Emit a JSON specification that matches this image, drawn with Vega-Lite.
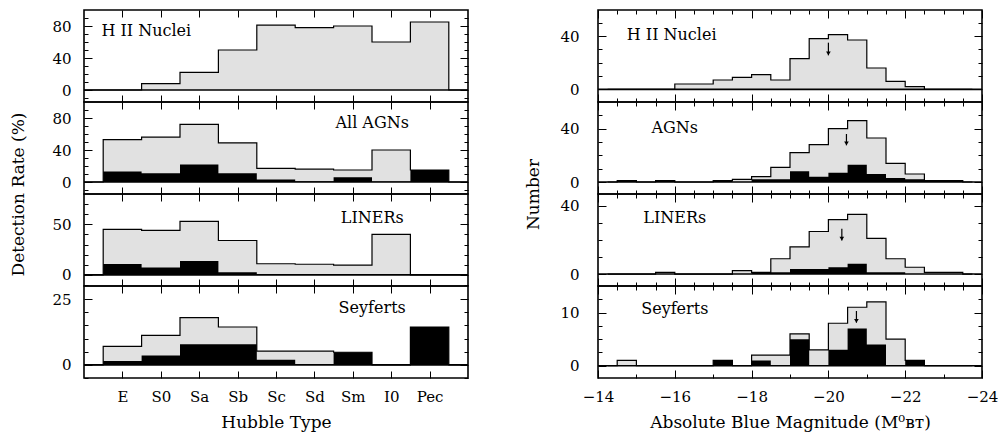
{
  "$schema": "https://vega.github.io/schema/vega-lite/v6.json",
  "padding": {"left": 8, "top": 8, "right": 2, "bottom": 5},
  "background": "white",
  "config": {
    "font": "DejaVu Serif",
    "view": {"stroke": "black", "strokeWidth": 1.6},
    "axis": {"domain": false, "grid": false, "tickColor": "black", "tickWidth": 1, "labelColor": "black", "labelFontSize": 15, "labelFont": "DejaVu Serif", "labelAngle": 0, "titleFont": "DejaVu Serif", "titleFontSize": 17, "titleFontWeight": "normal", "titleColor": "black", "labelOverlap": false, "labelFlush": false}
  },
  "datasets": {
    "hubble": [
      {"panel": "HII", "type": "_start", "total": 0, "black": 0},
      {"panel": "HII", "type": "E", "total": 0, "black": 0},
      {"panel": "HII", "type": "S0", "total": 8, "black": 0},
      {"panel": "HII", "type": "Sa", "total": 22, "black": 0},
      {"panel": "HII", "type": "Sb", "total": 50, "black": 0},
      {"panel": "HII", "type": "Sc", "total": 81, "black": 0},
      {"panel": "HII", "type": "Sd", "total": 78, "black": 0},
      {"panel": "HII", "type": "Sm", "total": 80, "black": 0},
      {"panel": "HII", "type": "I0", "total": 60, "black": 0},
      {"panel": "HII", "type": "Pec", "total": 85, "black": 0},
      {"panel": "HII", "type": "_end", "total": 0, "black": 0},
      {"panel": "AGN", "type": "_start", "total": 0, "black": 0},
      {"panel": "AGN", "type": "E", "total": 53, "black": 13},
      {"panel": "AGN", "type": "S0", "total": 56, "black": 11},
      {"panel": "AGN", "type": "Sa", "total": 72, "black": 22},
      {"panel": "AGN", "type": "Sb", "total": 49, "black": 11},
      {"panel": "AGN", "type": "Sc", "total": 17, "black": 3},
      {"panel": "AGN", "type": "Sd", "total": 16, "black": 1},
      {"panel": "AGN", "type": "Sm", "total": 15, "black": 6},
      {"panel": "AGN", "type": "I0", "total": 40, "black": 0.5},
      {"panel": "AGN", "type": "Pec", "total": 15, "black": 15},
      {"panel": "AGN", "type": "_end", "total": 0, "black": 0},
      {"panel": "LINER", "type": "_start", "total": 0, "black": 0},
      {"panel": "LINER", "type": "E", "total": 45, "black": 10.7},
      {"panel": "LINER", "type": "S0", "total": 44, "black": 7.4},
      {"panel": "LINER", "type": "Sa", "total": 53, "black": 13.7},
      {"panel": "LINER", "type": "Sb", "total": 34, "black": 2.7},
      {"panel": "LINER", "type": "Sc", "total": 11, "black": 0.5},
      {"panel": "LINER", "type": "Sd", "total": 10.5, "black": 0.3},
      {"panel": "LINER", "type": "Sm", "total": 9.7, "black": 0.3},
      {"panel": "LINER", "type": "I0", "total": 40, "black": 0},
      {"panel": "LINER", "type": "Pec", "total": 0, "black": 0},
      {"panel": "LINER", "type": "_end", "total": 0, "black": 0},
      {"panel": "SEY", "type": "_start", "total": 0, "black": 0},
      {"panel": "SEY", "type": "E", "total": 7, "black": 1.5},
      {"panel": "SEY", "type": "S0", "total": 11.2, "black": 3.6},
      {"panel": "SEY", "type": "Sa", "total": 18, "black": 7.8},
      {"panel": "SEY", "type": "Sb", "total": 14.4, "black": 7.8},
      {"panel": "SEY", "type": "Sc", "total": 5.2, "black": 1.9},
      {"panel": "SEY", "type": "Sd", "total": 5.2, "black": 0},
      {"panel": "SEY", "type": "Sm", "total": 4.8, "black": 4.8},
      {"panel": "SEY", "type": "I0", "total": 0, "black": 0},
      {"panel": "SEY", "type": "Pec", "total": 14.4, "black": 14.4},
      {"panel": "SEY", "type": "_end", "total": 0, "black": 0}
    ],
    "mag": [
      {"panel": "HII", "mag": -14.25, "total": 0, "black": 0},
      {"panel": "HII", "mag": -14.75, "total": 0, "black": 0},
      {"panel": "HII", "mag": -15.25, "total": 0, "black": 0},
      {"panel": "HII", "mag": -15.75, "total": 0, "black": 0},
      {"panel": "HII", "mag": -16.25, "total": 4, "black": 0},
      {"panel": "HII", "mag": -16.75, "total": 4, "black": 0},
      {"panel": "HII", "mag": -17.25, "total": 7, "black": 0},
      {"panel": "HII", "mag": -17.75, "total": 9, "black": 0},
      {"panel": "HII", "mag": -18.25, "total": 11, "black": 0},
      {"panel": "HII", "mag": -18.75, "total": 7, "black": 0},
      {"panel": "HII", "mag": -19.25, "total": 23, "black": 0},
      {"panel": "HII", "mag": -19.75, "total": 38, "black": 0},
      {"panel": "HII", "mag": -20.25, "total": 41, "black": 0},
      {"panel": "HII", "mag": -20.75, "total": 37, "black": 0},
      {"panel": "HII", "mag": -21.25, "total": 16, "black": 0},
      {"panel": "HII", "mag": -21.75, "total": 6, "black": 0},
      {"panel": "HII", "mag": -22.25, "total": 2, "black": 0},
      {"panel": "HII", "mag": -22.75, "total": 0, "black": 0},
      {"panel": "HII", "mag": -23.25, "total": 0, "black": 0},
      {"panel": "HII", "mag": -23.75, "total": 0, "black": 0},
      {"panel": "AGN", "mag": -14.25, "total": 0, "black": 0},
      {"panel": "AGN", "mag": -14.75, "total": 1, "black": 1},
      {"panel": "AGN", "mag": -15.25, "total": 0, "black": 0},
      {"panel": "AGN", "mag": -15.75, "total": 1, "black": 1},
      {"panel": "AGN", "mag": -16.25, "total": 0, "black": 0},
      {"panel": "AGN", "mag": -16.75, "total": 0, "black": 0},
      {"panel": "AGN", "mag": -17.25, "total": 1, "black": 1},
      {"panel": "AGN", "mag": -17.75, "total": 2, "black": 0},
      {"panel": "AGN", "mag": -18.25, "total": 4, "black": 2},
      {"panel": "AGN", "mag": -18.75, "total": 11, "black": 2},
      {"panel": "AGN", "mag": -19.25, "total": 22, "black": 8},
      {"panel": "AGN", "mag": -19.75, "total": 28, "black": 4},
      {"panel": "AGN", "mag": -20.25, "total": 40, "black": 7},
      {"panel": "AGN", "mag": -20.75, "total": 46, "black": 13},
      {"panel": "AGN", "mag": -21.25, "total": 33, "black": 6},
      {"panel": "AGN", "mag": -21.75, "total": 14, "black": 3},
      {"panel": "AGN", "mag": -22.25, "total": 6, "black": 2},
      {"panel": "AGN", "mag": -22.75, "total": 1, "black": 1},
      {"panel": "AGN", "mag": -23.25, "total": 1, "black": 1},
      {"panel": "AGN", "mag": -23.75, "total": 0, "black": 0},
      {"panel": "LINER", "mag": -14.25, "total": 0, "black": 0},
      {"panel": "LINER", "mag": -14.75, "total": 0, "black": 0},
      {"panel": "LINER", "mag": -15.25, "total": 0, "black": 0},
      {"panel": "LINER", "mag": -15.75, "total": 1, "black": 0},
      {"panel": "LINER", "mag": -16.25, "total": 0, "black": 0},
      {"panel": "LINER", "mag": -16.75, "total": 0, "black": 0},
      {"panel": "LINER", "mag": -17.25, "total": 0, "black": 0},
      {"panel": "LINER", "mag": -17.75, "total": 2, "black": 0},
      {"panel": "LINER", "mag": -18.25, "total": 1, "black": 1},
      {"panel": "LINER", "mag": -18.75, "total": 9, "black": 1},
      {"panel": "LINER", "mag": -19.25, "total": 16, "black": 3},
      {"panel": "LINER", "mag": -19.75, "total": 25, "black": 3},
      {"panel": "LINER", "mag": -20.25, "total": 32, "black": 4},
      {"panel": "LINER", "mag": -20.75, "total": 35, "black": 6},
      {"panel": "LINER", "mag": -21.25, "total": 21, "black": 1},
      {"panel": "LINER", "mag": -21.75, "total": 9, "black": 1},
      {"panel": "LINER", "mag": -22.25, "total": 4, "black": 0},
      {"panel": "LINER", "mag": -22.75, "total": 1, "black": 0},
      {"panel": "LINER", "mag": -23.25, "total": 1, "black": 0},
      {"panel": "LINER", "mag": -23.75, "total": 0, "black": 0},
      {"panel": "SEY", "mag": -14.25, "total": 0, "black": 0},
      {"panel": "SEY", "mag": -14.75, "total": 1, "black": 0},
      {"panel": "SEY", "mag": -15.25, "total": 0, "black": 0},
      {"panel": "SEY", "mag": -15.75, "total": 0, "black": 0},
      {"panel": "SEY", "mag": -16.25, "total": 0, "black": 0},
      {"panel": "SEY", "mag": -16.75, "total": 0, "black": 0},
      {"panel": "SEY", "mag": -17.25, "total": 1, "black": 1},
      {"panel": "SEY", "mag": -17.75, "total": 0, "black": 0},
      {"panel": "SEY", "mag": -18.25, "total": 2, "black": 1},
      {"panel": "SEY", "mag": -18.75, "total": 2, "black": 0},
      {"panel": "SEY", "mag": -19.25, "total": 6, "black": 5},
      {"panel": "SEY", "mag": -19.75, "total": 3, "black": 0},
      {"panel": "SEY", "mag": -20.25, "total": 8, "black": 3},
      {"panel": "SEY", "mag": -20.75, "total": 11, "black": 7},
      {"panel": "SEY", "mag": -21.25, "total": 12, "black": 4},
      {"panel": "SEY", "mag": -21.75, "total": 5, "black": 0},
      {"panel": "SEY", "mag": -22.25, "total": 1, "black": 1},
      {"panel": "SEY", "mag": -22.75, "total": 0, "black": 0},
      {"panel": "SEY", "mag": -23.25, "total": 0, "black": 0},
      {"panel": "SEY", "mag": -23.75, "total": 0, "black": 0}
    ],
    "arrows": [
      {"panel": "HII", "mag": -20.0, "top": 35, "tip": 25.5},
      {"panel": "AGN", "mag": -20.47, "top": 36, "tip": 27.5},
      {"panel": "LINER", "mag": -20.35, "top": 26.6, "tip": 19.7},
      {"panel": "SEY", "mag": -20.73, "top": 10.3, "tip": 8.1}
    ]
  },
  "spacing": 51,
  "hconcat": [
    {
      "spacing": 0,
      "bounds": "flush",
      "vconcat": [
        {
          "width": 384, "height": 92,
          "resolve": {"axis": {"x": "independent", "y": "independent"}},
          "layer": [
            {"data": {"name": "hubble"}, "transform": [{"filter": "datum.panel === 'HII'"}],
             "mark": {"type": "area", "interpolate": "step", "fill": "#e1e1e1"},
             "encoding": {
               "x": {"field": "type", "type": "ordinal", "scale": {"type": "point", "domain": ["_start","E","S0","Sa","Sb","Sc","Sd","Sm","I0","Pec","_end"], "padding": 0}, "axis": {"orient": "bottom", "values": ["E","S0","Sa","Sb","Sc","Sd","Sm","I0","Pec"], "tickSize": -7, "labels": false, "title": null}},
               "y": {"field": "total", "type": "quantitative", "scale": {"domain": [-15, 100], "nice": false, "zero": false}, "axis": {"orient": "left", "values": [-10,0,10,20,30,40,50,60,70,80,90], "tickSize": {"condition": {"test": "datum.value % 40 === 0", "value": -8}, "value": -4}, "labelExpr": "datum.value % 40 === 0 ? datum.label : ''", "labelPadding": 21, "title": null}},
               "y2": {"datum": 0},
               "order": {"value": null}
             }},
            {"data": {"name": "hubble"}, "transform": [{"filter": "datum.panel === 'HII'"}],
             "mark": {"type": "area", "interpolate": "step", "fill": "black"},
             "encoding": {
               "x": {"field": "type", "type": "ordinal", "axis": {"orient": "top", "values": ["E","S0","Sa","Sb","Sc","Sd","Sm","I0","Pec"], "tickSize": -7, "labels": false, "title": null}},
               "y": {"field": "black", "type": "quantitative", "axis": {"orient": "right", "values": [-10,0,10,20,30,40,50,60,70,80,90], "tickSize": {"condition": {"test": "datum.value % 40 === 0", "value": -8}, "value": -4}, "labels": false, "title": null}},
               "y2": {"datum": 0},
               "order": {"value": null}
             }},
            {"data": {"name": "hubble"}, "transform": [{"filter": "datum.panel === 'HII'"}],
             "mark": {"type": "line", "interpolate": "step", "color": "black", "strokeWidth": 1.2},
             "encoding": {
               "x": {"field": "type", "type": "ordinal", "axis": null},
               "y": {"field": "total", "type": "quantitative", "axis": null},
               "order": {"value": null}
             }},
            {"data": {"values": [{}]}, "mark": {"type": "rule", "color": "black", "strokeWidth": 1.6}, "encoding": {"y": {"datum": 0, "type": "quantitative", "axis": null}}},
            {"data": {"values": [{"label": "H II Nuclei"}]},
             "mark": {"type": "text", "align": "left", "baseline": "middle", "fontSize": 16, "dx": -21, "color": "black"},
             "encoding": {"x": {"datum": "E", "type": "ordinal", "axis": null}, "y": {"datum": 74, "type": "quantitative", "axis": null}, "text": {"field": "label"}}}
          ]
        },
        {
          "width": 384, "height": 92,
          "resolve": {"axis": {"x": "independent", "y": "independent"}},
          "layer": [
            {"data": {"name": "hubble"}, "transform": [{"filter": "datum.panel === 'AGN'"}],
             "mark": {"type": "area", "interpolate": "step", "fill": "#e1e1e1"},
             "encoding": {
               "x": {"field": "type", "type": "ordinal", "scale": {"type": "point", "domain": ["_start","E","S0","Sa","Sb","Sc","Sd","Sm","I0","Pec","_end"], "padding": 0}, "axis": {"orient": "bottom", "values": ["E","S0","Sa","Sb","Sc","Sd","Sm","I0","Pec"], "tickSize": -7, "labels": false, "title": null}},
               "y": {"field": "total", "type": "quantitative", "scale": {"domain": [-15, 100], "nice": false, "zero": false}, "axis": {"orient": "left", "values": [-10,0,10,20,30,40,50,60,70,80,90], "tickSize": {"condition": {"test": "datum.value % 40 === 0", "value": -8}, "value": -4}, "labelExpr": "datum.value % 40 === 0 ? datum.label : ''", "labelPadding": 21, "title": "Detection Rate (%)", "titleX": -66, "titleY": 92, "titleAngle": -90, "titleAlign": "center", "titleBaseline": "middle"}},
               "y2": {"datum": 0},
               "order": {"value": null}
             }},
            {"data": {"name": "hubble"}, "transform": [{"filter": "datum.panel === 'AGN'"}],
             "mark": {"type": "area", "interpolate": "step", "fill": "black"},
             "encoding": {
               "x": {"field": "type", "type": "ordinal", "axis": {"orient": "top", "values": ["E","S0","Sa","Sb","Sc","Sd","Sm","I0","Pec"], "tickSize": -7, "labels": false, "title": null}},
               "y": {"field": "black", "type": "quantitative", "axis": {"orient": "right", "values": [-10,0,10,20,30,40,50,60,70,80,90], "tickSize": {"condition": {"test": "datum.value % 40 === 0", "value": -8}, "value": -4}, "labels": false, "title": null}},
               "y2": {"datum": 0},
               "order": {"value": null}
             }},
            {"data": {"name": "hubble"}, "transform": [{"filter": "datum.panel === 'AGN'"}],
             "mark": {"type": "line", "interpolate": "step", "color": "black", "strokeWidth": 1.2},
             "encoding": {
               "x": {"field": "type", "type": "ordinal", "axis": null},
               "y": {"field": "total", "type": "quantitative", "axis": null},
               "order": {"value": null}
             }},
            {"data": {"values": [{}]}, "mark": {"type": "rule", "color": "black", "strokeWidth": 1.6}, "encoding": {"y": {"datum": 0, "type": "quantitative", "axis": null}}},
            {"data": {"values": [{"label": "All AGNs"}]},
             "mark": {"type": "text", "align": "center", "baseline": "middle", "fontSize": 16, "dx": -19, "color": "black"},
             "encoding": {"x": {"datum": "I0", "type": "ordinal", "axis": null}, "y": {"datum": 74, "type": "quantitative", "axis": null}, "text": {"field": "label"}}}
          ]
        },
        {
          "width": 384, "height": 92,
          "resolve": {"axis": {"x": "independent", "y": "independent"}},
          "layer": [
            {"data": {"name": "hubble"}, "transform": [{"filter": "datum.panel === 'LINER'"}],
             "mark": {"type": "area", "interpolate": "step", "fill": "#e1e1e1"},
             "encoding": {
               "x": {"field": "type", "type": "ordinal", "scale": {"type": "point", "domain": ["_start","E","S0","Sa","Sb","Sc","Sd","Sm","I0","Pec","_end"], "padding": 0}, "axis": {"orient": "bottom", "values": ["E","S0","Sa","Sb","Sc","Sd","Sm","I0","Pec"], "tickSize": -7, "labels": false, "title": null}},
               "y": {"field": "total", "type": "quantitative", "scale": {"domain": [-11, 80], "nice": false, "zero": false}, "axis": {"orient": "left", "values": [-10,0,10,20,30,40,50,60,70], "tickSize": {"condition": {"test": "datum.value % 50 === 0", "value": -8}, "value": -4}, "labelExpr": "datum.value % 50 === 0 ? datum.label : ''", "labelPadding": 21, "title": null}},
               "y2": {"datum": 0},
               "order": {"value": null}
             }},
            {"data": {"name": "hubble"}, "transform": [{"filter": "datum.panel === 'LINER'"}],
             "mark": {"type": "area", "interpolate": "step", "fill": "black"},
             "encoding": {
               "x": {"field": "type", "type": "ordinal", "axis": {"orient": "top", "values": ["E","S0","Sa","Sb","Sc","Sd","Sm","I0","Pec"], "tickSize": -7, "labels": false, "title": null}},
               "y": {"field": "black", "type": "quantitative", "axis": {"orient": "right", "values": [-10,0,10,20,30,40,50,60,70], "tickSize": {"condition": {"test": "datum.value % 50 === 0", "value": -8}, "value": -4}, "labels": false, "title": null}},
               "y2": {"datum": 0},
               "order": {"value": null}
             }},
            {"data": {"name": "hubble"}, "transform": [{"filter": "datum.panel === 'LINER'"}],
             "mark": {"type": "line", "interpolate": "step", "color": "black", "strokeWidth": 1.2},
             "encoding": {
               "x": {"field": "type", "type": "ordinal", "axis": null},
               "y": {"field": "total", "type": "quantitative", "axis": null},
               "order": {"value": null}
             }},
            {"data": {"values": [{}]}, "mark": {"type": "rule", "color": "black", "strokeWidth": 1.6}, "encoding": {"y": {"datum": 0, "type": "quantitative", "axis": null}}},
            {"data": {"values": [{"label": "LINERs"}]},
             "mark": {"type": "text", "align": "center", "baseline": "middle", "fontSize": 16, "dx": -19, "color": "black"},
             "encoding": {"x": {"datum": "I0", "type": "ordinal", "axis": null}, "y": {"datum": 56, "type": "quantitative", "axis": null}, "text": {"field": "label"}}}
          ]
        },
        {
          "width": 384, "height": 92,
          "resolve": {"axis": {"x": "independent", "y": "independent"}},
          "layer": [
            {"data": {"name": "hubble"}, "transform": [{"filter": "datum.panel === 'SEY'"}],
             "mark": {"type": "area", "interpolate": "step", "fill": "#e1e1e1"},
             "encoding": {
               "x": {"field": "type", "type": "ordinal", "scale": {"type": "point", "domain": ["_start","E","S0","Sa","Sb","Sc","Sd","Sm","I0","Pec","_end"], "padding": 0}, "axis": {"orient": "bottom", "values": ["E","S0","Sa","Sb","Sc","Sd","Sm","I0","Pec"], "tickSize": -7, "labels": true, "labelPadding": 18, "title": "Hubble Type", "titleY": 44, "titleBaseline": "middle"}},
               "y": {"field": "total", "type": "quantitative", "scale": {"domain": [-5, 30], "nice": false, "zero": false}, "axis": {"orient": "left", "values": [-5,0,5,10,15,20,25], "tickSize": {"condition": {"test": "datum.value % 25 === 0", "value": -8}, "value": -4}, "labelExpr": "datum.value % 25 === 0 ? datum.label : ''", "labelPadding": 21, "title": null}},
               "y2": {"datum": 0},
               "order": {"value": null}
             }},
            {"data": {"name": "hubble"}, "transform": [{"filter": "datum.panel === 'SEY'"}],
             "mark": {"type": "area", "interpolate": "step", "fill": "black"},
             "encoding": {
               "x": {"field": "type", "type": "ordinal", "axis": {"orient": "top", "values": ["E","S0","Sa","Sb","Sc","Sd","Sm","I0","Pec"], "tickSize": -7, "labels": false, "title": null}},
               "y": {"field": "black", "type": "quantitative", "axis": {"orient": "right", "values": [-5,0,5,10,15,20,25], "tickSize": {"condition": {"test": "datum.value % 25 === 0", "value": -8}, "value": -4}, "labels": false, "title": null}},
               "y2": {"datum": 0},
               "order": {"value": null}
             }},
            {"data": {"name": "hubble"}, "transform": [{"filter": "datum.panel === 'SEY'"}],
             "mark": {"type": "line", "interpolate": "step", "color": "black", "strokeWidth": 1.2},
             "encoding": {
               "x": {"field": "type", "type": "ordinal", "axis": null},
               "y": {"field": "total", "type": "quantitative", "axis": null},
               "order": {"value": null}
             }},
            {"data": {"values": [{}]}, "mark": {"type": "rule", "color": "black", "strokeWidth": 1.6}, "encoding": {"y": {"datum": 0, "type": "quantitative", "axis": null}}},
            {"data": {"values": [{"label": "Seyferts"}]},
             "mark": {"type": "text", "align": "center", "baseline": "middle", "fontSize": 16, "dx": -19, "color": "black"},
             "encoding": {"x": {"datum": "I0", "type": "ordinal", "axis": null}, "y": {"datum": 21.7, "type": "quantitative", "axis": null}, "text": {"field": "label"}}}
          ]
        }
      ]
    },
    {
      "spacing": 0,
      "bounds": "flush",
      "vconcat": [
        {
          "width": 384, "height": 92,
          "resolve": {"axis": {"x": "independent", "y": "independent"}},
          "layer": [
            {"data": {"name": "mag"}, "transform": [{"filter": "datum.panel === 'HII'"}],
             "mark": {"type": "area", "interpolate": "step", "fill": "#e1e1e1"},
             "encoding": {
               "x": {"field": "mag", "type": "quantitative", "scale": {"domain": [-14, -24], "nice": false, "zero": false}, "axis": {"orient": "bottom", "values": [-14,-14.5,-15,-15.5,-16,-16.5,-17,-17.5,-18,-18.5,-19,-19.5,-20,-20.5,-21,-21.5,-22,-22.5,-23,-23.5,-24], "tickSize": {"condition": {"test": "datum.value % 2 === 0", "value": -8}, "value": -4}, "labels": false, "title": null}},
               "y": {"field": "total", "type": "quantitative", "scale": {"domain": [-9.5, 59.5], "nice": false, "zero": false}, "axis": {"orient": "left", "values": [0,10,20,30,40,50], "tickSize": {"condition": {"test": "datum.value % 40 === 0", "value": -8}, "value": -4}, "labelExpr": "datum.value % 40 === 0 ? datum.label : ''", "labelPadding": 27, "title": null}},
               "y2": {"datum": 0},
               "order": {"value": null}
             }},
            {"data": {"name": "mag"}, "transform": [{"filter": "datum.panel === 'HII'"}],
             "mark": {"type": "area", "interpolate": "step", "fill": "black"},
             "encoding": {
               "x": {"field": "mag", "type": "quantitative", "axis": {"orient": "top", "values": [-14,-14.5,-15,-15.5,-16,-16.5,-17,-17.5,-18,-18.5,-19,-19.5,-20,-20.5,-21,-21.5,-22,-22.5,-23,-23.5,-24], "tickSize": {"condition": {"test": "datum.value % 2 === 0", "value": -8}, "value": -4}, "labels": false, "title": null}},
               "y": {"field": "black", "type": "quantitative", "axis": {"orient": "right", "values": [0,10,20,30,40,50], "tickSize": {"condition": {"test": "datum.value % 40 === 0", "value": -8}, "value": -4}, "labels": false, "title": null}},
               "y2": {"datum": 0},
               "order": {"value": null}
             }},
            {"data": {"name": "mag"}, "transform": [{"filter": "datum.panel === 'HII'"}],
             "mark": {"type": "line", "interpolate": "step", "color": "black", "strokeWidth": 1.2},
             "encoding": {
               "x": {"field": "mag", "type": "quantitative", "axis": null},
               "y": {"field": "total", "type": "quantitative", "axis": null},
               "order": {"value": null}
             }},
            {"data": {"values": [{}]}, "mark": {"type": "rule", "color": "black", "strokeWidth": 1.6}, "encoding": {"y": {"datum": 0, "type": "quantitative", "axis": null}}},
            {"data": {"name": "arrows"}, "transform": [{"filter": "datum.panel === 'HII'"}],
             "mark": {"type": "rule", "color": "black", "strokeWidth": 1.2},
             "encoding": {"x": {"field": "mag", "type": "quantitative", "axis": null}, "y": {"field": "top", "type": "quantitative", "axis": null}, "y2": {"field": "tip"}}},
            {"data": {"name": "arrows"}, "transform": [{"filter": "datum.panel === 'HII'"}],
             "mark": {"type": "point", "shape": "M-1,-1.6L0,0L1,-1.6Z", "filled": true, "color": "black", "size": 22, "opacity": 1},
             "encoding": {"x": {"field": "mag", "type": "quantitative", "axis": null}, "y": {"field": "tip", "type": "quantitative", "axis": null}}},
            {"data": {"values": [{"label": "H II Nuclei"}]},
             "mark": {"type": "text", "align": "left", "baseline": "middle", "fontSize": 16, "color": "black"},
             "encoding": {"x": {"datum": -14.75, "type": "quantitative", "axis": null}, "y": {"datum": 40.7, "type": "quantitative", "axis": null}, "text": {"field": "label"}}}
          ]
        },
        {
          "width": 384, "height": 92,
          "resolve": {"axis": {"x": "independent", "y": "independent"}},
          "layer": [
            {"data": {"name": "mag"}, "transform": [{"filter": "datum.panel === 'AGN'"}],
             "mark": {"type": "area", "interpolate": "step", "fill": "#e1e1e1"},
             "encoding": {
               "x": {"field": "mag", "type": "quantitative", "scale": {"domain": [-14, -24], "nice": false, "zero": false}, "axis": {"orient": "bottom", "values": [-14,-14.5,-15,-15.5,-16,-16.5,-17,-17.5,-18,-18.5,-19,-19.5,-20,-20.5,-21,-21.5,-22,-22.5,-23,-23.5,-24], "tickSize": {"condition": {"test": "datum.value % 2 === 0", "value": -8}, "value": -4}, "labels": false, "title": null}},
               "y": {"field": "total", "type": "quantitative", "scale": {"domain": [-9, 60], "nice": false, "zero": false}, "axis": {"orient": "left", "values": [0,10,20,30,40,50], "tickSize": {"condition": {"test": "datum.value % 40 === 0", "value": -8}, "value": -4}, "labelExpr": "datum.value % 40 === 0 ? datum.label : ''", "labelPadding": 27, "title": "Number", "titleX": -65, "titleY": 92, "titleAngle": -90, "titleAlign": "center", "titleBaseline": "middle"}},
               "y2": {"datum": 0},
               "order": {"value": null}
             }},
            {"data": {"name": "mag"}, "transform": [{"filter": "datum.panel === 'AGN'"}],
             "mark": {"type": "area", "interpolate": "step", "fill": "black"},
             "encoding": {
               "x": {"field": "mag", "type": "quantitative", "axis": {"orient": "top", "values": [-14,-14.5,-15,-15.5,-16,-16.5,-17,-17.5,-18,-18.5,-19,-19.5,-20,-20.5,-21,-21.5,-22,-22.5,-23,-23.5,-24], "tickSize": {"condition": {"test": "datum.value % 2 === 0", "value": -8}, "value": -4}, "labels": false, "title": null}},
               "y": {"field": "black", "type": "quantitative", "axis": {"orient": "right", "values": [0,10,20,30,40,50], "tickSize": {"condition": {"test": "datum.value % 40 === 0", "value": -8}, "value": -4}, "labels": false, "title": null}},
               "y2": {"datum": 0},
               "order": {"value": null}
             }},
            {"data": {"name": "mag"}, "transform": [{"filter": "datum.panel === 'AGN'"}],
             "mark": {"type": "line", "interpolate": "step", "color": "black", "strokeWidth": 1.2},
             "encoding": {
               "x": {"field": "mag", "type": "quantitative", "axis": null},
               "y": {"field": "total", "type": "quantitative", "axis": null},
               "order": {"value": null}
             }},
            {"data": {"values": [{}]}, "mark": {"type": "rule", "color": "black", "strokeWidth": 1.6}, "encoding": {"y": {"datum": 0, "type": "quantitative", "axis": null}}},
            {"data": {"name": "arrows"}, "transform": [{"filter": "datum.panel === 'AGN'"}],
             "mark": {"type": "rule", "color": "black", "strokeWidth": 1.2},
             "encoding": {"x": {"field": "mag", "type": "quantitative", "axis": null}, "y": {"field": "top", "type": "quantitative", "axis": null}, "y2": {"field": "tip"}}},
            {"data": {"name": "arrows"}, "transform": [{"filter": "datum.panel === 'AGN'"}],
             "mark": {"type": "point", "shape": "M-1,-1.6L0,0L1,-1.6Z", "filled": true, "color": "black", "size": 22, "opacity": 1},
             "encoding": {"x": {"field": "mag", "type": "quantitative", "axis": null}, "y": {"field": "tip", "type": "quantitative", "axis": null}}},
            {"data": {"values": [{"label": "AGNs"}]},
             "mark": {"type": "text", "align": "center", "baseline": "middle", "fontSize": 16, "color": "black"},
             "encoding": {"x": {"datum": -16, "type": "quantitative", "axis": null}, "y": {"datum": 40.5, "type": "quantitative", "axis": null}, "text": {"field": "label"}}}
          ]
        },
        {
          "width": 384, "height": 92,
          "resolve": {"axis": {"x": "independent", "y": "independent"}},
          "layer": [
            {"data": {"name": "mag"}, "transform": [{"filter": "datum.panel === 'LINER'"}],
             "mark": {"type": "area", "interpolate": "step", "fill": "#e1e1e1"},
             "encoding": {
               "x": {"field": "mag", "type": "quantitative", "scale": {"domain": [-14, -24], "nice": false, "zero": false}, "axis": {"orient": "bottom", "values": [-14,-14.5,-15,-15.5,-16,-16.5,-17,-17.5,-18,-18.5,-19,-19.5,-20,-20.5,-21,-21.5,-22,-22.5,-23,-23.5,-24], "tickSize": {"condition": {"test": "datum.value % 2 === 0", "value": -8}, "value": -4}, "labels": false, "title": null}},
               "y": {"field": "total", "type": "quantitative", "scale": {"domain": [-7, 47], "nice": false, "zero": false}, "axis": {"orient": "left", "values": [0,10,20,30,40], "tickSize": {"condition": {"test": "datum.value % 40 === 0", "value": -8}, "value": -4}, "labelExpr": "datum.value % 40 === 0 ? datum.label : ''", "labelPadding": 27, "title": null}},
               "y2": {"datum": 0},
               "order": {"value": null}
             }},
            {"data": {"name": "mag"}, "transform": [{"filter": "datum.panel === 'LINER'"}],
             "mark": {"type": "area", "interpolate": "step", "fill": "black"},
             "encoding": {
               "x": {"field": "mag", "type": "quantitative", "axis": {"orient": "top", "values": [-14,-14.5,-15,-15.5,-16,-16.5,-17,-17.5,-18,-18.5,-19,-19.5,-20,-20.5,-21,-21.5,-22,-22.5,-23,-23.5,-24], "tickSize": {"condition": {"test": "datum.value % 2 === 0", "value": -8}, "value": -4}, "labels": false, "title": null}},
               "y": {"field": "black", "type": "quantitative", "axis": {"orient": "right", "values": [0,10,20,30,40], "tickSize": {"condition": {"test": "datum.value % 40 === 0", "value": -8}, "value": -4}, "labels": false, "title": null}},
               "y2": {"datum": 0},
               "order": {"value": null}
             }},
            {"data": {"name": "mag"}, "transform": [{"filter": "datum.panel === 'LINER'"}],
             "mark": {"type": "line", "interpolate": "step", "color": "black", "strokeWidth": 1.2},
             "encoding": {
               "x": {"field": "mag", "type": "quantitative", "axis": null},
               "y": {"field": "total", "type": "quantitative", "axis": null},
               "order": {"value": null}
             }},
            {"data": {"values": [{}]}, "mark": {"type": "rule", "color": "black", "strokeWidth": 1.6}, "encoding": {"y": {"datum": 0, "type": "quantitative", "axis": null}}},
            {"data": {"name": "arrows"}, "transform": [{"filter": "datum.panel === 'LINER'"}],
             "mark": {"type": "rule", "color": "black", "strokeWidth": 1.2},
             "encoding": {"x": {"field": "mag", "type": "quantitative", "axis": null}, "y": {"field": "top", "type": "quantitative", "axis": null}, "y2": {"field": "tip"}}},
            {"data": {"name": "arrows"}, "transform": [{"filter": "datum.panel === 'LINER'"}],
             "mark": {"type": "point", "shape": "M-1,-1.6L0,0L1,-1.6Z", "filled": true, "color": "black", "size": 22, "opacity": 1},
             "encoding": {"x": {"field": "mag", "type": "quantitative", "axis": null}, "y": {"field": "tip", "type": "quantitative", "axis": null}}},
            {"data": {"values": [{"label": "LINERs"}]},
             "mark": {"type": "text", "align": "center", "baseline": "middle", "fontSize": 16, "color": "black"},
             "encoding": {"x": {"datum": -16, "type": "quantitative", "axis": null}, "y": {"datum": 33, "type": "quantitative", "axis": null}, "text": {"field": "label"}}}
          ]
        },
        {
          "width": 384, "height": 92,
          "resolve": {"axis": {"x": "independent", "y": "independent"}},
          "layer": [
            {"data": {"name": "mag"}, "transform": [{"filter": "datum.panel === 'SEY'"}],
             "mark": {"type": "area", "interpolate": "step", "fill": "#e1e1e1"},
             "encoding": {
               "x": {"field": "mag", "type": "quantitative", "scale": {"domain": [-14, -24], "nice": false, "zero": false}, "axis": {"orient": "bottom", "values": [-14,-14.5,-15,-15.5,-16,-16.5,-17,-17.5,-18,-18.5,-19,-19.5,-20,-20.5,-21,-21.5,-22,-22.5,-23,-23.5,-24], "tickSize": {"condition": {"test": "datum.value % 2 === 0", "value": -8}, "value": -4}, "format": "d", "labelExpr": "datum.value % 2 === 0 ? datum.label : ''", "labels": true, "labelPadding": 19, "title": "Absolute Blue Magnitude (M⁰ʙᴛ)", "titleY": 44, "titleBaseline": "middle"}},
               "y": {"field": "total", "type": "quantitative", "scale": {"domain": [-2.3, 15], "nice": false, "zero": false}, "axis": {"orient": "left", "values": [0,2.5,5,7.5,10,12.5], "tickSize": {"condition": {"test": "datum.value % 10 === 0", "value": -8}, "value": -4}, "labelExpr": "datum.value % 10 === 0 ? datum.label : ''", "labelPadding": 27, "title": null}},
               "y2": {"datum": 0},
               "order": {"value": null}
             }},
            {"data": {"name": "mag"}, "transform": [{"filter": "datum.panel === 'SEY'"}],
             "mark": {"type": "area", "interpolate": "step", "fill": "black"},
             "encoding": {
               "x": {"field": "mag", "type": "quantitative", "axis": {"orient": "top", "values": [-14,-14.5,-15,-15.5,-16,-16.5,-17,-17.5,-18,-18.5,-19,-19.5,-20,-20.5,-21,-21.5,-22,-22.5,-23,-23.5,-24], "tickSize": {"condition": {"test": "datum.value % 2 === 0", "value": -8}, "value": -4}, "labels": false, "title": null}},
               "y": {"field": "black", "type": "quantitative", "axis": {"orient": "right", "values": [0,2.5,5,7.5,10,12.5], "tickSize": {"condition": {"test": "datum.value % 10 === 0", "value": -8}, "value": -4}, "labels": false, "title": null}},
               "y2": {"datum": 0},
               "order": {"value": null}
             }},
            {"data": {"name": "mag"}, "transform": [{"filter": "datum.panel === 'SEY'"}],
             "mark": {"type": "line", "interpolate": "step", "color": "black", "strokeWidth": 1.2},
             "encoding": {
               "x": {"field": "mag", "type": "quantitative", "axis": null},
               "y": {"field": "total", "type": "quantitative", "axis": null},
               "order": {"value": null}
             }},
            {"data": {"values": [{}]}, "mark": {"type": "rule", "color": "black", "strokeWidth": 1.6}, "encoding": {"y": {"datum": 0, "type": "quantitative", "axis": null}}},
            {"data": {"name": "arrows"}, "transform": [{"filter": "datum.panel === 'SEY'"}],
             "mark": {"type": "rule", "color": "black", "strokeWidth": 1.2},
             "encoding": {"x": {"field": "mag", "type": "quantitative", "axis": null}, "y": {"field": "top", "type": "quantitative", "axis": null}, "y2": {"field": "tip"}}},
            {"data": {"name": "arrows"}, "transform": [{"filter": "datum.panel === 'SEY'"}],
             "mark": {"type": "point", "shape": "M-1,-1.6L0,0L1,-1.6Z", "filled": true, "color": "black", "size": 22, "opacity": 1},
             "encoding": {"x": {"field": "mag", "type": "quantitative", "axis": null}, "y": {"field": "tip", "type": "quantitative", "axis": null}}},
            {"data": {"values": [{"label": "Seyferts"}]},
             "mark": {"type": "text", "align": "center", "baseline": "middle", "fontSize": 16, "color": "black"},
             "encoding": {"x": {"datum": -16, "type": "quantitative", "axis": null}, "y": {"datum": 10.75, "type": "quantitative", "axis": null}, "text": {"field": "label"}}}
          ]
        }
      ]
    }
  ]
}
